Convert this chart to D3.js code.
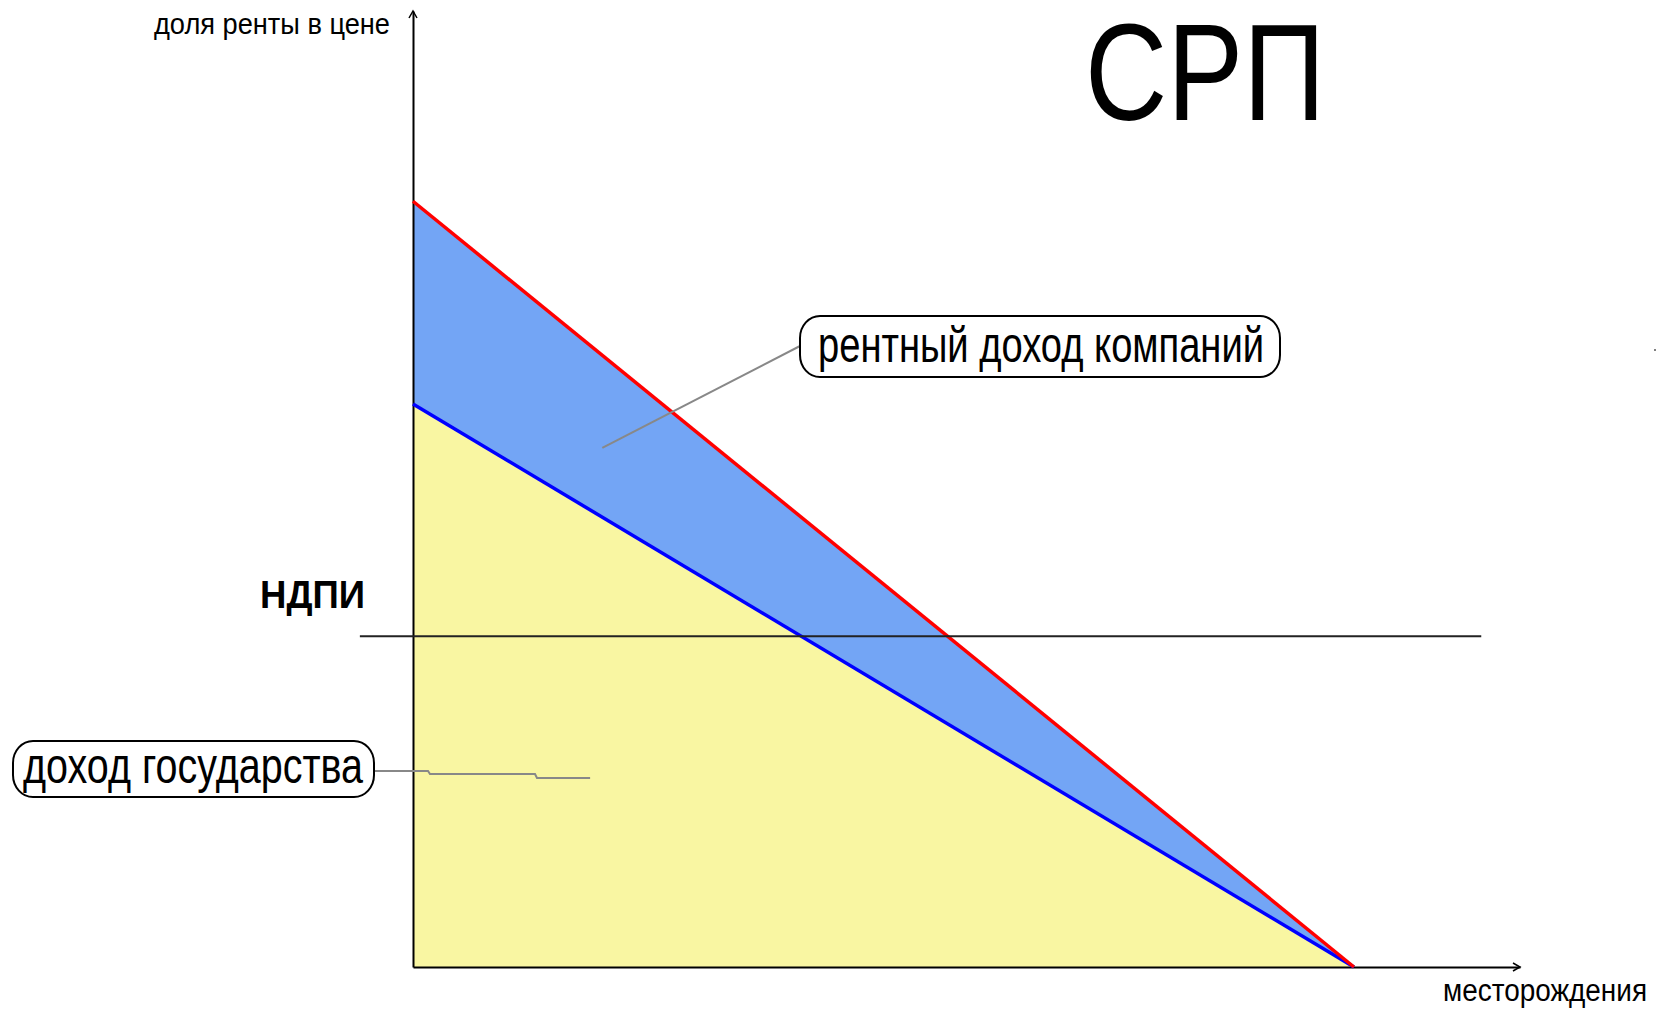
<!DOCTYPE html>
<html>
<head>
<meta charset="utf-8">
<script src="https://cdn.jsdelivr.net/npm/d3@7"></script>
<style>
  body { margin: 0; background: #fff; }
  text { font-family: "Liberation Sans", Arial, sans-serif; fill: #000; }
</style>
</head>
<body>
<div id="container"></div>
<script>
const width = 1661;
const height = 1010;

// data (share of rent in price vs. deposits, arbitrary units 0..100)
const rentLine = [{x: 0, y: 80.1}, {x: 85, y: 0}];      // red: total rent
const stateLine = [{x: 0, y: 58.9}, {x: 85, y: 0}];     // blue: state income
const ndpiLevel = 34.6;
const ndpiExtent = [-4.8, 96.5];
const labels = {
  yAxis: "доля ренты в цене",
  xAxis: "месторождения",
  title: "СРП",
  ndpi: "НДПИ",
  company: "рентный доход компаний",
  state: "доход государства"
};

const svg = d3.select("#container")
  .append("svg")
  .attr("width", width)
  .attr("height", height);

const x = d3.scaleLinear().domain([0, 100]).range([413, 1520]);
const y = d3.scaleLinear().domain([0, 100]).range([967, 11]);

// yellow area: state income
const under = d3.area()
  .x(d => x(d.x))
  .y0(y(0))
  .y1(d => y(d.y));

svg.append("path")
  .datum(stateLine)
  .attr("d", under)
  .attr("fill", "#f9f6a2");

// blue area: company rent between blue and red lines
const band = d3.area()
  .x(d => x(d.x))
  .y0((d, i) => y(stateLine[i].y))
  .y1(d => y(d.y));

svg.append("path")
  .datum(rentLine)
  .attr("d", band)
  .attr("fill", "#73a5f5");

// axes, no ticks
svg.append("g")
  .attr("transform", `translate(${x(0)},0)`)
  .call(d3.axisLeft(y).tickValues([]).tickSizeOuter(0))
  .select(".domain").attr("stroke", "#000").attr("stroke-width", 2);

svg.append("g")
  .attr("transform", `translate(0,${y(0)})`)
  .call(d3.axisBottom(x).tickValues([]).tickSizeOuter(0))
  .select(".domain").attr("stroke", "#000").attr("stroke-width", 2);

// arrow heads
svg.append("path")
  .attr("d", `M${x(0) - 4},${y(100) + 7}L${x(0)},${y(100)}L${x(0) + 4},${y(100) + 7}`)
  .attr("fill", "none").attr("stroke", "#000").attr("stroke-width", 1.5);
svg.append("path")
  .attr("d", `M${x(100) - 7},${y(0) - 4}L${x(100)},${y(0)}L${x(100) - 7},${y(0) + 4}`)
  .attr("fill", "none").attr("stroke", "#000").attr("stroke-width", 1.5);

const line = d3.line().x(d => x(d.x)).y(d => y(d.y));

svg.append("path")
  .datum(stateLine)
  .attr("d", line)
  .attr("fill", "none")
  .attr("stroke", "#0000ff")
  .attr("stroke-width", 3.5);

svg.append("path")
  .datum(rentLine)
  .attr("d", line)
  .attr("fill", "none")
  .attr("stroke", "#ff0000")
  .attr("stroke-width", 3.5);

// НДПИ level
svg.append("line")
  .attr("x1", x(ndpiExtent[0]))
  .attr("x2", x(ndpiExtent[1]))
  .attr("y1", y(ndpiLevel))
  .attr("y2", y(ndpiLevel))
  .attr("stroke", "#222")
  .attr("stroke-width", 2);

svg.append("text")
  .attr("x", 260).attr("y", 608)
  .attr("font-size", 39).attr("font-weight", "bold")
  .attr("textLength", 105).attr("lengthAdjust", "spacingAndGlyphs")
  .text(labels.ndpi);

// titles
svg.append("text")
  .attr("x", 1085).attr("y", 120)
  .attr("font-size", 138)
  .attr("textLength", 240).attr("lengthAdjust", "spacingAndGlyphs")
  .text(labels.title);

svg.append("text")
  .attr("x", 154).attr("y", 34)
  .attr("font-size", 30)
  .attr("textLength", 236).attr("lengthAdjust", "spacingAndGlyphs")
  .text(labels.yAxis);

svg.append("text")
  .attr("x", 1443).attr("y", 1001)
  .attr("font-size", 31)
  .attr("textLength", 204).attr("lengthAdjust", "spacingAndGlyphs")
  .text(labels.xAxis);

// callouts
function callout(box, text, leader) {
  svg.append("path")
    .attr("d", d3.line()(leader))
    .attr("fill", "none")
    .attr("stroke", "#888")
    .attr("stroke-width", 2);
  svg.append("rect")
    .attr("x", box.x).attr("y", box.y)
    .attr("width", box.w).attr("height", box.h)
    .attr("rx", 20).attr("ry", 22)
    .attr("fill", "#fff")
    .attr("stroke", "#000")
    .attr("stroke-width", 2);
  svg.append("text")
    .attr("x", box.tx).attr("y", box.ty)
    .attr("font-size", 50)
    .attr("textLength", box.tw).attr("lengthAdjust", "spacingAndGlyphs")
    .text(text);
}

callout({x: 800, y: 316, w: 480, h: 61, tx: 818, ty: 362, tw: 446},
  labels.company,
  [[800, 346], [x(17.1), y(54.3)]]);

callout({x: 13, y: 741, w: 361, h: 56, tx: 23, ty: 783, tw: 340},
  labels.state,
  [[374, 771], [428, 771], [430, 774], [535, 774], [537, 778], [x(16), 778]]);

svg.append("circle").attr("cx", 1655).attr("cy", 350).attr("r", 1).attr("fill", "#555");
</script>
</body>
</html>
